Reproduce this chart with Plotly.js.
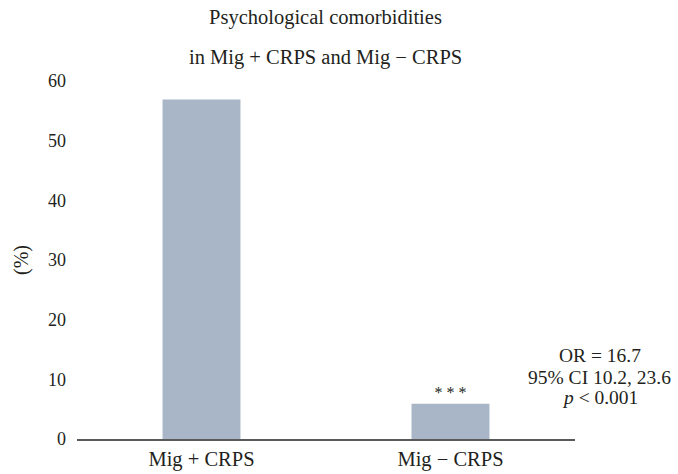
<!DOCTYPE html>
<html>
<head>
<meta charset="utf-8">
<script src="https://cdn.plot.ly/plotly-3.0.1.min.js"></script>
<style>html,body{margin:0;padding:0;background:#fff;}#chart{width:678px;height:474px;}</style>
</head>
<body>
<div id="chart"></div>
<script>
const categories = ["Mig + CRPS", "Mig \u2212 CRPS"];
const percentValues = [56.9, 5.9];
const significanceLabels = ["", "* * *"];
const yTicks = [0, 10, 20, 30, 40, 50, 60];
const titleLines = ["Psychological comorbidities", "in Mig + CRPS and Mig \u2212 CRPS"];
const statsLines = ["OR = 16.7", "95% CI 10.2, 23.6", "<i>p</i> < 0.001"];

const FONT = "Liberation Serif, Times New Roman, serif";
const TXT = "#231f20";

const trace = {
  type: "bar",
  x: categories,
  y: percentValues,
  marker: {color: "#a9b6c8"},
  width: 0.313,
  text: significanceLabels,
  textposition: "outside",
  textfont: {family: FONT, size: 16, color: TXT},
  cliponaxis: false,
  hoverinfo: "skip"
};

const titleY = [1.176, 1.067];
const statsY = [0.232, 0.172, 0.115];

const annotations = [];
titleLines.forEach((t, i) => annotations.push({
  xref: "paper", yref: "paper", x: 0.498, y: titleY[i], xanchor: "center", yanchor: "middle",
  text: t, showarrow: false, font: {family: FONT, size: 20.5, color: TXT}
}));
statsLines.forEach((t, i) => annotations.push({
  xref: "paper", yref: "paper", x: 1.05, y: statsY[i], xanchor: "center", yanchor: "middle",
  text: t, showarrow: false, font: {family: FONT, size: 19.5, color: TXT}
}));

const layout = {
  width: 678, height: 474,
  margin: {l: 77, r: 103, t: 81, b: 35, pad: 0},
  paper_bgcolor: "#fff", plot_bgcolor: "#fff",
  showlegend: false,
  font: {family: FONT, size: 18, color: TXT},
  xaxis: {
    type: "category", range: [-0.5, 1.5],
    showline: true, linecolor: "#5a5a5a", linewidth: 2,
    ticks: "", showgrid: false, zeroline: false,
    tickfont: {family: FONT, size: 20.5, color: TXT}
  },
  yaxis: {
    range: [0, 60], tickvals: yTicks,
    showline: false, showgrid: false, zeroline: false, ticks: "",
    tickfont: {family: FONT, size: 18, color: TXT},
    ticklabelstandoff: 10,
    title: {text: "(%)", font: {family: FONT, size: 20, color: TXT}, standoff: 14}
  },
  annotations: annotations
};

Plotly.newPlot("chart", [trace], layout, {displayModeBar: false, staticPlot: true});
</script>
</body>
</html>
